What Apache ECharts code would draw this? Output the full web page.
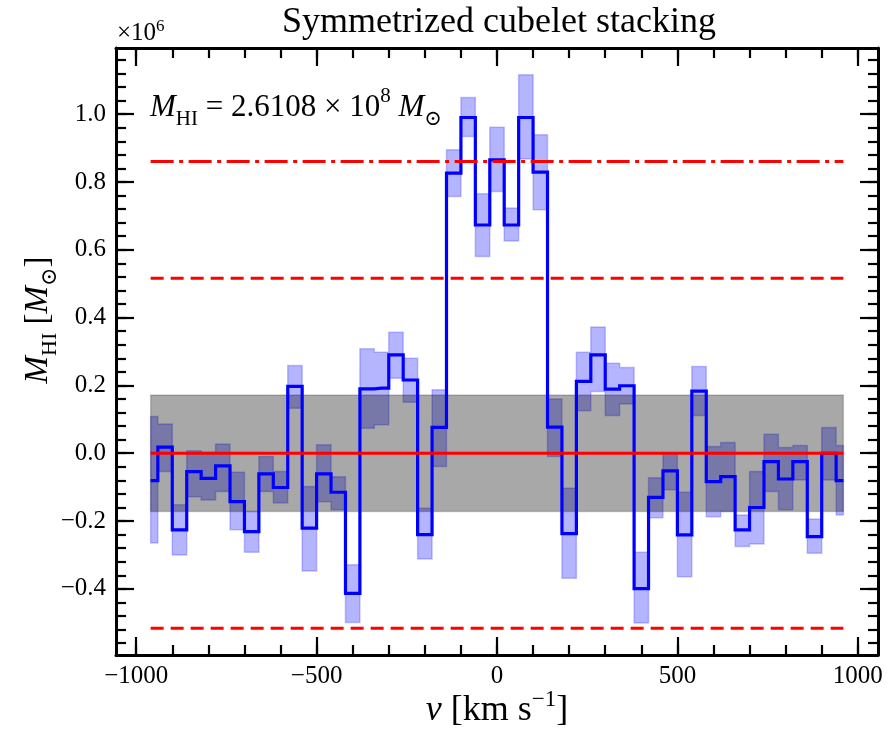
<!DOCTYPE html>
<html>
<head>
<meta charset="utf-8">
<script src="https://cdn.jsdelivr.net/npm/echarts@6/dist/echarts.min.js"></script>
<style>
  html, body { margin: 0; padding: 0; background: #ffffff; }
  #chart { width: 889px; height: 730px; }
</style>
</head>
<body>
<div id="chart"></div>
<script>
// Velocity channels of the stacked spectrum [km/s]
const VELOCITY = [
  -960, -920, -880, -840, -800, -760, -720, -680, -640, -600,
  -560, -520, -480, -440, -400, -360, -320, -280, -240, -200,
  -160, -120, -80, -40, 0, 40, 80, 120, 160, 200,
  240, 280, 320, 360, 400, 440, 480, 520, 560, 600,
  640, 680, 720, 760, 800, 840, 880, 920, 960
];

// Stacked HI mass per channel [x 10^6 Msun]
const MASS = [
  -0.081, 0.018, -0.226, -0.054, -0.074, -0.037, -0.143, -0.231, -0.061, -0.101,
  0.197, -0.221, -0.061, -0.115, -0.413, 0.190, 0.192, 0.290, 0.216, -0.240,
  0.076, 0.826, 0.990, 0.673, 0.865, 0.673, 0.990, 0.829, 0.077, -0.237,
  0.212, 0.290, 0.189, 0.199, -0.399, -0.130, -0.052, -0.241, 0.183, -0.084,
  -0.069, -0.226, -0.160, -0.025, -0.076, -0.025, -0.246, 0.000, -0.081
];

// Uncertainty envelope per channel (lower / upper edge)
const MASS_LOW = [
  -0.265, -0.054, -0.300, -0.128, -0.138, -0.113, -0.226, -0.292, -0.113, -0.147,
  0.133, -0.347, -0.143, -0.167, -0.499, 0.074, 0.084, 0.221, 0.150, -0.312,
  -0.039, 0.757, 0.934, 0.580, 0.772, 0.626, 0.868, 0.718, -0.010, -0.369,
  0.125, 0.182, 0.111, 0.145, -0.501, -0.190, -0.108, -0.364, 0.111, -0.187,
  -0.172, -0.275, -0.268, -0.113, -0.167, -0.079, -0.295, -0.079, -0.182
];
const MASS_HIGH = [
  0.108, 0.086, -0.152, 0.007, 0.003, 0.027, -0.056, -0.172, -0.010, -0.054,
  0.259, -0.098, 0.025, -0.069, -0.329, 0.308, 0.298, 0.357, 0.280, -0.162,
  0.187, 0.895, 1.049, 0.765, 0.961, 0.723, 1.116, 0.939, 0.160, -0.103,
  0.298, 0.372, 0.265, 0.253, -0.292, -0.072, 0.000, -0.115, 0.256, 0.020,
  0.032, -0.182, -0.054, 0.056, 0.017, 0.023, -0.194, 0.076, 0.023
];

// Channel noise level [x 10^6 Msun]
const SIGMA = 0.172;

// Axis limits and ticks
const X_RANGE = [-1056, 1056];
const Y_RANGE = [-0.595, 1.195];
const X_TICKS = [-1000, -500, 0, 500, 1000];
const Y_TICKS = [-0.4, -0.2, 0.0, 0.2, 0.4, 0.6, 0.8, 1.0];

const X_MINOR = [];
for (let v = -1000; v <= 1000; v += 100) X_MINOR.push(v);
const Y_MINOR = [];
for (let k = -14; k <= 29; k++) Y_MINOR.push(+(k * 0.04).toFixed(2));

const FONT = '"Liberation Serif", "DejaVu Serif", serif';
const MINUS = '\u2212';
const fmtSigned = (s) => String(s).replace('-', MINUS);

const N = VELOCITY.length;
const first = VELOCITY[0];
const last = VELOCITY[N - 1];

// channel edges for a mid-step outline
const leftEdge = (i) => (i === 0 ? VELOCITY[0] : (VELOCITY[i - 1] + VELOCITY[i]) / 2);
const rightEdge = (i) => (i === N - 1 ? VELOCITY[N - 1] : (VELOCITY[i] + VELOCITY[i + 1]) / 2);

function xAxisDef(position, major, showLabels) {
  return {
    type: 'value', position: position, min: X_RANGE[0], max: X_RANGE[1],
    axisLine: { show: major, onZero: false, lineStyle: { color: '#000', width: 3 } },
    axisTick: {
      show: true, inside: true, length: major ? 18 : 10,
      customValues: major ? X_TICKS : X_MINOR,
      lineStyle: { color: '#000', width: 2.2 }
    },
    axisLabel: {
      show: showLabels, customValues: X_TICKS, margin: 9,
      fontFamily: FONT, fontSize: 25, color: '#000',
      formatter: (v) => fmtSigned(Math.round(v))
    },
    splitLine: { show: false }
  };
}
function yAxisDef(position, major, showLabels) {
  return {
    type: 'value', position: position, min: Y_RANGE[0], max: Y_RANGE[1],
    axisLine: { show: major, onZero: false, lineStyle: { color: '#000', width: 3 } },
    axisTick: {
      show: true, inside: true, length: major ? 18 : 10,
      customValues: major ? Y_TICKS : Y_MINOR,
      lineStyle: { color: '#000', width: 2.2 }
    },
    axisLabel: {
      show: showLabels, customValues: Y_TICKS, margin: 10,
      fontFamily: FONT, fontSize: 25, color: '#000',
      formatter: (v) => fmtSigned(v.toFixed(1))
    },
    splitLine: { show: false }
  };
}

const redLine = (y, dash) => ({
  type: 'line', z: 5, silent: true, symbol: 'none',
  data: [[first, y], [last, y]],
  lineStyle: { color: '#ff0000', width: 3, type: dash }
});

const chart = echarts.init(document.getElementById('chart'), null, { renderer: 'canvas' });

chart.setOption({
  backgroundColor: '#ffffff',
  animation: false,
  grid: { left: 116, right: 11, top: 48, bottom: 75, outerBoundsMode: 'none', containLabel: false },
  xAxis: [
    xAxisDef('bottom', true, true),
    xAxisDef('bottom', false, false),
    xAxisDef('top', true, false),
    xAxisDef('top', false, false)
  ],
  yAxis: [
    yAxisDef('left', true, true),
    yAxisDef('left', false, false),
    yAxisDef('right', true, false),
    yAxisDef('right', false, false)
  ],
  series: [
    // uncertainty envelope: one mid-step polygon, upper edge then lower edge back
    {
      type: 'custom', z: 2, silent: true,
      data: [[first, last]],
      renderItem: (params, api) => {
        const pts = [];
        for (let i = 0; i < N; i++) {
          pts.push(api.coord([leftEdge(i), MASS_HIGH[i]]));
          pts.push(api.coord([rightEdge(i), MASS_HIGH[i]]));
        }
        for (let i = N - 1; i >= 0; i--) {
          pts.push(api.coord([rightEdge(i), MASS_LOW[i]]));
          pts.push(api.coord([leftEdge(i), MASS_LOW[i]]));
        }
        return {
          type: 'polygon',
          shape: { points: pts },
          style: { fill: 'rgba(0,0,255,0.29)', stroke: 'rgba(0,0,255,0.22)', lineWidth: 1.5 }
        };
      }
    },
    // +-1 sigma noise band
    {
      type: 'custom', z: 3, silent: true,
      data: [[first, last, -SIGMA, SIGMA]],
      renderItem: (params, api) => {
        const p0 = api.coord([api.value(0), api.value(3)]);
        const p1 = api.coord([api.value(1), api.value(2)]);
        return {
          type: 'rect',
          shape: { x: p0[0], y: p0[1], width: p1[0] - p0[0], height: p1[1] - p0[1] },
          style: { fill: 'rgba(0,0,0,0.34)', stroke: 'rgba(0,0,0,0.18)', lineWidth: 1.5 }
        };
      }
    },
    // stacked spectrum
    {
      type: 'line', z: 4, silent: true, symbol: 'none', step: 'middle',
      data: VELOCITY.map((v, i) => [v, MASS[i]]),
      lineStyle: { color: '#0000ff', width: 3.2, join: 'miter' }
    },
    redLine(0, 'solid'),
    redLine(3 * SIGMA, [13, 7]),
    redLine(-3 * SIGMA, [13, 7]),
    redLine(5 * SIGMA, [23, 5.5, 4, 5.5])
  ],
  graphic: [
    {
      type: 'text', x: 499, y: 23,
      style: { text: 'Symmetrized cubelet stacking', fontFamily: FONT, fontSize: 36,
               fill: '#000', align: 'center', verticalAlign: 'middle' }
    },
    {
      type: 'text', x: 117, y: 33,
      style: {
        text: '{n|\u00d710}{sup|6}', align: 'left', verticalAlign: 'middle',
        rich: {
          n: { fontFamily: FONT, fontSize: 25, fill: '#000', lineHeight: 30 },
          sup: { fontFamily: FONT, fontSize: 17, fill: '#000', lineHeight: 17, verticalAlign: 'top' }
        }
      }
    },
    {
      type: 'text', x: 150, y: 108,
      style: {
        text: '{it|M}{sub|HI}{n| = 2.6108 \u00d7 10}{sup|8}{n| }{it|M}{sub|\u2299}',
        align: 'left', verticalAlign: 'middle',
        rich: {
          it: { fontFamily: FONT, fontSize: 31, fontStyle: 'italic', fill: '#000', lineHeight: 44 },
          n: { fontFamily: FONT, fontSize: 31, fill: '#000', lineHeight: 44 },
          sub: { fontFamily: FONT, fontSize: 21, fill: '#000', lineHeight: 21, verticalAlign: 'bottom' },
          sup: { fontFamily: FONT, fontSize: 21, fill: '#000', lineHeight: 21, verticalAlign: 'top' }
        }
      }
    },
    {
      type: 'text', x: 497, y: 711,
      style: {
        text: '{it|v}{n| [km s}{sup|\u22121}{n|]}',
        align: 'center', verticalAlign: 'middle',
        rich: {
          it: { fontFamily: FONT, fontSize: 36, fontStyle: 'italic', fill: '#000', lineHeight: 46 },
          n: { fontFamily: FONT, fontSize: 36, fill: '#000', lineHeight: 46 },
          sup: { fontFamily: FONT, fontSize: 23, fill: '#000', lineHeight: 23, verticalAlign: 'top' }
        }
      }
    },
    {
      type: 'text', x: 38, y: 320, rotation: Math.PI / 2,
      style: {
        text: '{it|M}{sub|HI}{n| [}{it|M}{sub|\u2299}{n|]}',
        align: 'center', verticalAlign: 'middle',
        rich: {
          it: { fontFamily: FONT, fontSize: 33, fontStyle: 'italic', fill: '#000', lineHeight: 46 },
          n: { fontFamily: FONT, fontSize: 33, fill: '#000', lineHeight: 46 },
          sub: { fontFamily: FONT, fontSize: 22, fill: '#000', lineHeight: 22, verticalAlign: 'bottom' }
        }
      }
    }
  ]
});
</script>
</body>
</html>
